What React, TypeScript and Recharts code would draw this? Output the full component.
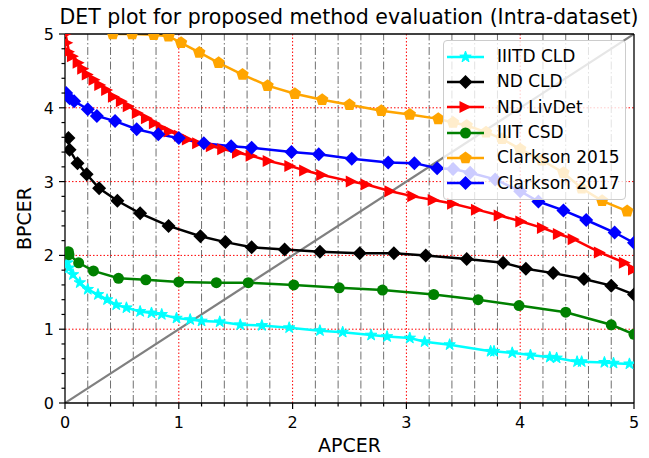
import React from 'react';
import { LineChart, Line, XAxis, YAxis, ReferenceLine, Legend, Label } from 'recharts';

const FONT = '"DejaVu Sans", sans-serif';

// axis ticks
const MAJOR_TICKS = [0, 1, 2, 3, 4, 5];
const MINOR_TICKS = [0.2, 0.4, 0.6, 0.8, 1.2, 1.4, 1.6, 1.8, 2.2, 2.4, 2.6, 2.8, 3.2, 3.4, 3.6, 3.8, 4.2, 4.4, 4.6, 4.8];
const RED_GRID = [1, 2, 3, 4];
const ALL_TICKS = [...MAJOR_TICKS, ...MINOR_TICKS].sort((a, b) => a - b);

// chance diagonal
const DIAG_X = [0, 5];
const DIAG_Y = [0, 5];

// IIITD CLD
const IIITD_CLD_X = [0.02, 0.035, 0.07, 0.13, 0.2, 0.29, 0.37, 0.45, 0.54, 0.66, 0.76, 0.85, 0.98, 1.1, 1.2, 1.36, 1.54, 1.73, 1.97, 2.24, 2.44, 2.69, 2.83, 3.03, 3.16, 3.38, 3.74, 3.77, 3.93, 4.09, 4.26, 4.32, 4.5, 4.54, 4.74, 4.82, 4.96];
const IIITD_CLD_Y = [1.9, 1.83, 1.74, 1.63, 1.54, 1.47, 1.4, 1.33, 1.29, 1.24, 1.22, 1.2, 1.15, 1.13, 1.11, 1.1, 1.06, 1.05, 1.02, 0.98, 0.96, 0.92, 0.9, 0.88, 0.83, 0.79, 0.7, 0.7, 0.68, 0.65, 0.62, 0.61, 0.56, 0.56, 0.55, 0.54, 0.53];

// ND CLD
const ND_CLD_X = [0.03, 0.04, 0.11, 0.19, 0.3, 0.46, 0.66, 0.91, 1.19, 1.41, 1.64, 1.93, 2.24, 2.59, 2.89, 3.17, 3.53, 3.85, 4.05, 4.29, 4.56, 4.8, 5.0];
const ND_CLD_Y = [3.59, 3.43, 3.25, 3.1, 2.91, 2.74, 2.57, 2.4, 2.26, 2.18, 2.11, 2.08, 2.05, 2.03, 2.03, 2.0, 1.95, 1.9, 1.82, 1.76, 1.68, 1.59, 1.47];

// ND LivDet
const ND_LIVDET_X = [0.005, 0.02, 0.035, 0.07, 0.12, 0.16, 0.2, 0.26, 0.31, 0.37, 0.43, 0.5, 0.56, 0.64, 0.72, 0.79, 0.85, 0.92, 1.01, 1.08, 1.17, 1.29, 1.39, 1.52, 1.64, 1.79, 1.98, 2.11, 2.26, 2.52, 2.65, 2.86, 3.06, 3.24, 3.41, 3.62, 3.82, 4.01, 4.2, 4.34, 4.47, 4.7, 4.92, 5.0];
const ND_LIVDET_Y = [5.0, 4.88, 4.76, 4.7, 4.61, 4.53, 4.45, 4.38, 4.31, 4.24, 4.15, 4.09, 4.02, 3.93, 3.86, 3.79, 3.73, 3.68, 3.62, 3.57, 3.52, 3.48, 3.44, 3.39, 3.35, 3.28, 3.21, 3.15, 3.09, 3.0, 2.96, 2.87, 2.8, 2.75, 2.7, 2.62, 2.54, 2.46, 2.37, 2.29, 2.22, 2.04, 1.9, 1.81];

// IIIT CSD
const IIIT_CSD_X = [0.03, 0.035, 0.12, 0.25, 0.47, 0.71, 1.0, 1.33, 1.61, 2.01, 2.41, 2.79, 3.24, 3.63, 3.99, 4.4, 4.8, 5.0];
const IIIT_CSD_Y = [2.05, 2.01, 1.9, 1.79, 1.69, 1.67, 1.64, 1.63, 1.63, 1.6, 1.56, 1.53, 1.47, 1.4, 1.32, 1.23, 1.06, 0.93];

// Clarkson 2015
const CLARKSON15_X = [0.42, 0.59, 0.78, 0.91, 1.02, 1.18, 1.35, 1.56, 1.78, 2.02, 2.26, 2.5, 2.78, 3.03, 3.28, 3.41, 3.53, 3.7, 3.84, 4.0, 4.19, 4.38, 4.54, 4.72, 4.94];
const CLARKSON15_Y = [5.0, 5.0, 4.99, 4.97, 4.88, 4.75, 4.61, 4.45, 4.3, 4.19, 4.11, 4.04, 3.96, 3.91, 3.85, 3.8, 3.76, 3.67, 3.58, 3.44, 3.29, 3.12, 2.91, 2.74, 2.6];

// Clarkson 2017
const CLARKSON17_X = [0.01, 0.04, 0.08, 0.2, 0.28, 0.44, 0.63, 0.82, 1.0, 1.22, 1.46, 1.64, 1.99, 2.23, 2.52, 2.84, 3.07, 3.27, 3.41, 3.56, 3.78, 4.0, 4.16, 4.38, 4.58, 4.83, 5.0];
const CLARKSON17_Y = [4.2, 4.13, 4.09, 3.98, 3.89, 3.82, 3.71, 3.64, 3.59, 3.52, 3.48, 3.46, 3.4, 3.37, 3.31, 3.26, 3.25, 3.18, 3.17, 3.12, 3.03, 2.87, 2.73, 2.61, 2.48, 2.31, 2.17];

const toPoints = (xs: number[], ys: number[]) => xs.map((x, i) => ({ x, y: ys[i] }));

type Shape = 'star' | 'diamond' | 'triangle' | 'circle' | 'pentagon';

const SERIES: { name: string; color: string; shape: Shape; size: number; data: { x: number; y: number }[] }[] = [
  { name: 'IIITD CLD', color: '#00ffff', shape: 'star', size: 6, data: toPoints(IIITD_CLD_X, IIITD_CLD_Y) },
  { name: 'ND CLD', color: '#000000', shape: 'diamond', size: 7, data: toPoints(ND_CLD_X, ND_CLD_Y) },
  { name: 'ND LivDet', color: '#ff0000', shape: 'triangle', size: 6, data: toPoints(ND_LIVDET_X, ND_LIVDET_Y) },
  { name: 'IIIT CSD', color: '#008000', shape: 'circle', size: 5.5, data: toPoints(IIIT_CSD_X, IIIT_CSD_Y) },
  { name: 'Clarkson 2015', color: '#ffa500', shape: 'pentagon', size: 6.5, data: toPoints(CLARKSON15_X, CLARKSON15_Y) },
  { name: 'Clarkson 2017', color: '#0000ff', shape: 'diamond', size: 7, data: toPoints(CLARKSON17_X, CLARKSON17_Y) },
];

const polyPoints = (cx: number, cy: number, r: number, n: number, start: number, inner?: number) => {
  const pts: string[] = [];
  const count = inner ? n * 2 : n;
  for (let i = 0; i < count; i++) {
    const rad = inner && i % 2 === 1 ? inner : r;
    const a = start + (i * 2 * Math.PI) / count;
    pts.push(`${cx + rad * Math.cos(a)},${cy + rad * Math.sin(a)}`);
  }
  return pts.join(' ');
};

function marker(shape: Shape, color: string, cx: number, cy: number, s: number, key?: string) {
  switch (shape) {
    case 'star':
      return <polygon key={key} points={polyPoints(cx, cy, s, 5, -Math.PI / 2, s * 0.4)} fill={color} stroke={color} strokeWidth={1} />;
    case 'diamond':
      return <polygon key={key} points={`${cx},${cy - s} ${cx + s},${cy} ${cx},${cy + s} ${cx - s},${cy}`} fill={color} />;
    case 'triangle':
      return <polygon key={key} points={`${cx + s},${cy} ${cx - s},${cy - s} ${cx - s},${cy + s}`} fill={color} />;
    case 'circle':
      return <circle key={key} cx={cx} cy={cy} r={s} fill={color} />;
    case 'pentagon':
      return <polygon key={key} points={polyPoints(cx, cy, s, 5, -Math.PI / 2)} fill={color} />;
  }
}

const XTick = (props: any) => {
  const { x, y, payload } = props;
  const v = payload.value;
  const major = MAJOR_TICKS.includes(v);
  return (
    <g>
      <line x1={x} y1={y} x2={x} y2={y + (major ? 6 : 3.5)} stroke="#000" strokeWidth={1.2} />
      {major && (
        <text x={x} y={y + 25} textAnchor="middle" fontSize={16} fontFamily={FONT} fill="#000">
          {v}
        </text>
      )}
    </g>
  );
};

const YTick = (props: any) => {
  const { x, y, payload } = props;
  const v = payload.value;
  const major = MAJOR_TICKS.includes(v);
  return (
    <g>
      <line x1={x} y1={y} x2={x - (major ? 6 : 3.5)} y2={y} stroke="#000" strokeWidth={1.2} />
      {major && (
        <text x={x - 11} y={y + 6} textAnchor="end" fontSize={16} fontFamily={FONT} fill="#000">
          {v}
        </text>
      )}
    </g>
  );
};

const LegendBox = () => (
  <div
    style={{
      border: '1px solid #cccccc',
      borderRadius: 4,
      background: 'rgba(255,255,255,0.8)',
      padding: '3px 0',
      width: 183,
      boxSizing: 'border-box',
      fontFamily: FONT,
      color: '#000',
    }}
  >
    {SERIES.map((s) => (
      <div key={s.name} style={{ display: 'flex', alignItems: 'center', height: 25.3 }}>
        <svg width={50} height={20} style={{ display: 'block' }}>
          <line x1={3} y1={10} x2={40} y2={10} stroke={s.color} strokeWidth={2.5} />
          {marker(s.shape, s.color, 21.5, 10, s.size)}
        </svg>
        <span style={{ fontSize: 17, marginLeft: 3, lineHeight: 1, whiteSpace: 'nowrap' }}>{s.name}</span>
      </div>
    ))}
  </div>
);

export default function App() {
  return (
    <div style={{ position: 'absolute', left: 0, top: 0, background: '#fff' }}>
      <LineChart width={649} height={458} margin={{ top: 34, right: 15, bottom: 0, left: 0 }}>
        <text x={349} y={24} textAnchor="middle" fontSize={20.5} fontFamily={FONT} fill="#000">
          DET plot for proposed method evaluation (Intra-dataset)
        </text>
        <XAxis
          type="number"
          dataKey="x"
          domain={[0, 5]}
          ticks={ALL_TICKS}
          interval={0}
          allowDataOverflow
          height={55}
          tickSize={0}
          tickMargin={0}
          tickLine={false}
          tick={<XTick />}
          axisLine={{ stroke: '#000', strokeWidth: 1.3 }}
        >
          <Label
            content={(p: any) => {
              const vb = p.viewBox;
              return (
                <text x={vb.x + vb.width / 2} y={vb.y + 49} textAnchor="middle" fontSize={19} fontFamily={FONT} fill="#000">
                  APCER
                </text>
              );
            }}
          />
        </XAxis>
        <YAxis
          type="number"
          dataKey="y"
          domain={[0, 5]}
          ticks={ALL_TICKS}
          interval={0}
          allowDataOverflow
          width={65}
          tickSize={0}
          tickMargin={0}
          tickLine={false}
          tick={<YTick />}
          axisLine={{ stroke: '#000', strokeWidth: 1.3 }}
        >
          <Label
            content={(p: any) => {
              const vb = p.viewBox;
              const cx = vb.x + 31;
              const cy = vb.y + vb.height / 2;
              return (
                <text x={cx} y={cy} transform={`rotate(-90 ${cx} ${cy})`} textAnchor="middle" fontSize={19} fontFamily={FONT} fill="#000">
                  BPCER
                </text>
              );
            }}
          />
        </YAxis>
        {MINOR_TICKS.map((v) => (
          <ReferenceLine key={`mg-${v}`} x={v} stroke="#707070" strokeWidth={1} strokeDasharray="8 2.5 1.5 2.5" />
        ))}
        {RED_GRID.map((v) => (
          <ReferenceLine key={`rx-${v}`} x={v} stroke="#ff0000" strokeWidth={1} strokeDasharray="1.5 2" />
        ))}
        {RED_GRID.map((v) => (
          <ReferenceLine key={`ry-${v}`} y={v} stroke="#ff0000" strokeWidth={1} strokeDasharray="1.5 2" />
        ))}
        <Line
          data={toPoints(DIAG_X, DIAG_Y)}
          dataKey="y"
          stroke="#808080"
          strokeWidth={2.2}
          dot={false}
          isAnimationActive={false}
          legendType="none"
        />
        {SERIES.map((s) => (
          <Line
            key={s.name}
            name={s.name}
            data={s.data}
            dataKey="y"
            stroke={s.color}
            strokeWidth={2.5}
            isAnimationActive={false}
            dot={(p: any) => marker(s.shape, s.color, p.cx, p.cy, s.size, `${s.name}-${p.index}`)}
            activeDot={false}
          />
        ))}
        <ReferenceLine y={5} stroke="#000" strokeWidth={1.3} />
        <ReferenceLine x={5} stroke="#000" strokeWidth={1.3} />
        <Legend
          layout="vertical"
          align="center"
          verticalAlign="middle"
          wrapperStyle={{ top: 40, left: 443, width: 183 }}
          content={() => <LegendBox />}
        />
      </LineChart>
    </div>
  );
}
